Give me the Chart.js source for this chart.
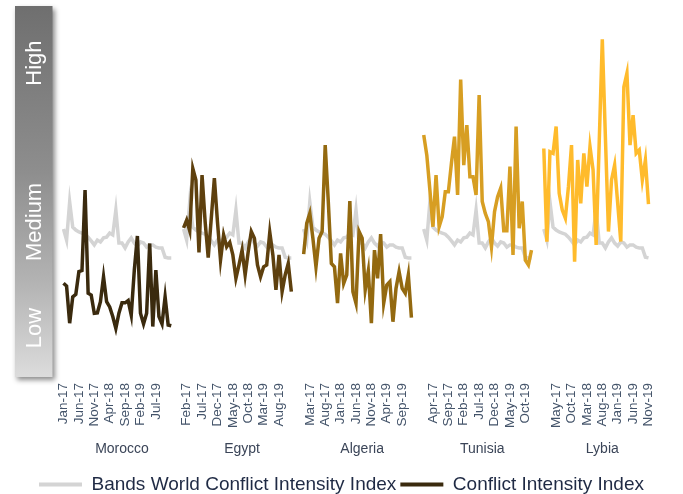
<!DOCTYPE html>
<html>
<head>
<meta charset="utf-8">
<script src="https://cdn.jsdelivr.net/npm/chart.js@4.4.1/dist/chart.umd.min.js"></script>
<style>
  html, body { margin: 0; padding: 0; background: #fff; overflow: hidden; }
  #wrap { width: 683px; height: 494px; }
</style>
</head>
<body>
<div id="wrap"><canvas id="mycanvas"></canvas></div>
<script>
// categories
var countries = ['Morocco', 'Egypt', 'Algeria', 'Tunisia', 'Lybia'];
var months = ['Jan-17','Feb-17','Mar-17','Apr-17','May-17','Jun-17','Jul-17','Aug-17','Sep-17','Oct-17','Nov-17','Dec-17',
              'Jan-18','Feb-18','Mar-18','Apr-18','May-18','Jun-18','Jul-18','Aug-18','Sep-18','Oct-18','Nov-18','Dec-18',
              'Jan-19','Feb-19','Mar-19','Apr-19','May-19','Jun-19','Jul-19','Aug-19','Sep-19','Oct-19','Nov-19','Dec-19'];
var levels = ['High', 'Medium', 'Low'];

// tick labels shown under each country
var moroccoTicks = ['Jan-17','Jun-17','Nov-17','Apr-18','Sep-18','Feb-19','Jul-19'];
var egyptTicks   = ['Feb-17','Jul-17','Dec-17','May-18','Oct-18','Mar-19','Aug-19'];
var algeriaTicks = ['Mar-17','Aug-17','Jan-18','Jun-18','Nov-18','Apr-19','Sep-19'];
var tunisiaTicks = ['Apr-17','Sep-17','Feb-18','Jul-18','Dec-18','May-19','Oct-19'];
var lybiaTicks   = ['May-17','Oct-17','Mar-18','Aug-18','Jan-19','Jun-19','Nov-19'];

// Bands World Conflict Intensity Index (same in every panel)
var world = [39.9, 36.9, 47.2, 40.4, 39.6, 39.1, 38.8, 38.5, 37.7, 36.7, 35.6, 36.9,
             36.4, 37.5, 37.7, 38.8, 38.3, 45.0, 36.1, 36.1, 34.8, 36.4, 37.5, 36.1,
             35.3, 36.4, 36.1, 35.0, 35.6, 35.6, 35.0, 34.8, 34.8, 32.3, 32.1, 32.1];

// Conflict Intensity Index per country
var morocco = [25.3, 24.5, 14.5, 21.6, 22.3, 28.4, 28.7, 50.4, 22.6, 22.1, 17.2, 17.3,
               20.3, 27.0, 20.3, 18.9, 16.3, 13.1, 17.2, 20.0, 20.0, 20.6, 16.7, 28.8,
               38.0, 17.2, 14.3, 17.2, 36.0, 13.6, 28.8, 16.3, 14.3, 21.6, 14.0, 13.8];
var egypt = [40.2, 42.3, 39.4, 56.2, 53.1, 33.6, 54.4, 41.9, 32.2, 42.8, 53.6, 41.9,
             31.5, 38.3, 35.1, 36.3, 32.9, 26.6, 30.2, 34.2, 27.5, 33.8, 39.2, 37.4,
             30.2, 27.0, 29.7, 30.2, 39.0, 32.9, 23.5, 32.9, 23.0, 27.5, 30.6, 23.0];
var algeria = [33.1, 41.4, 44.1, 37.4, 29.7, 37.4, 39.2, 62.5, 47.3, 30.6, 29.7, 19.9,
               33.3, 25.2, 27.5, 47.4, 23.0, 19.9, 39.2, 37.4, 23.5, 28.6, 14.5, 34.2,
               26.6, 38.5, 19.9, 24.8, 25.7, 14.9, 23.9, 28.4, 23.9, 22.6, 27.5, 16.0];
var tunisia = [65.2, 59.8, 50.4, 40.5, 54.4, 40.5, 43.2, 49.9, 49.9, 57.6, 64.8, 49.1,
               80.2, 57.1, 67.9, 54.0, 54.0, 49.1, 76.0, 47.3, 44.1, 41.9, 35.1, 44.6,
               48.6, 50.9, 39.4, 39.4, 56.7, 32.9, 67.5, 40.1, 47.3, 31.5, 30.2, 34.2];
var lybia = [61.6, 36.5, 60.7, 60.3, 67.5, 49.5, 45.0, 42.8, 51.3, 62.5, 31.1, 58.5,
             46.8, 60.3, 51.3, 62.1, 55.8, 35.6, 63.3, 91.0, 64.8, 39.2, 53.1, 57.1,
             46.8, 36.5, 78.2, 81.9, 62.5, 70.6, 60.3, 61.2, 53.1, 58.5, 46.6];

var countryData = [morocco, egypt, algeria, tunisia, lybia];
var countryTicks = [moroccoTicks, egyptTicks, algeriaTicks, tunisiaTicks, lybiaTicks];
var countryColors = ['#3A2A0E', '#5E400E', '#936910', '#D79E22', '#FFBB2C'];
var gap = 3;
var blockLen = months.length + gap;
var fontFam = "'Liberation Sans', Arial, sans-serif";

// build the long category axis: one block of months per country, blanks between
var labels = [], tickText = [], worldLine = [], conflictLine = [];
countries.forEach(function (c, b) {
  for (var i = 0; i < blockLen; i++) {
    var m = i < months.length ? months[i] : '';
    labels.push(m);
    tickText.push(m && countryTicks[b].indexOf(m) >= 0 ? m : '');
    var v = countryData[b][i];
    conflictLine.push(v === undefined ? null : v);
    worldLine.push(v === undefined ? null : world[i]);
  }
});

var bandPlugin = {
  id: 'band',
  beforeDraw: function (chart) {
    var ctx = chart.ctx, a = chart.chartArea;
    var x0 = 15, w = 37.5, top = a.top, h = a.bottom - a.top;
    ctx.save();
    var g = ctx.createLinearGradient(0, top, 0, top + h);
    g.addColorStop(0, '#6f6f6f');
    g.addColorStop(0.45, '#8e8e8e');
    g.addColorStop(0.75, '#b4b4b4');
    g.addColorStop(1, '#dcdcdc');
    ctx.shadowColor = 'rgba(0,0,0,0.45)';
    ctx.shadowBlur = 5;
    ctx.shadowOffsetX = 2;
    ctx.shadowOffsetY = 3;
    ctx.fillStyle = g;
    ctx.fillRect(x0, top, w, h);
    ctx.restore();

    var pos = [0.154, 0.582, 0.868];
    ctx.save();
    ctx.fillStyle = '#ffffff';
    ctx.font = '22px ' + fontFam;
    ctx.textAlign = 'center';
    ctx.textBaseline = 'middle';
    levels.forEach(function (t, i) {
      ctx.save();
      ctx.translate(x0 + w / 2 + 1, top + h * pos[i]);
      ctx.rotate(-Math.PI / 2);
      ctx.fillText(t, 0, 0);
      ctx.restore();
    });
    ctx.restore();
  },
  afterDraw: function (chart) {
    var ctx = chart.ctx, xs = chart.scales.x, a = chart.chartArea;
    ctx.save();
    ctx.fillStyle = '#3B4558';
    ctx.font = '14px ' + fontFam;
    ctx.textAlign = 'center';
    ctx.textBaseline = 'middle';
    countries.forEach(function (c, b) {
      ctx.fillText(c, xs.getPixelForValue(b * blockLen + (blockLen - 1) / 2), a.bottom + 72);
    });
    ctx.restore();
  }
};

var ctx = document.getElementById('mycanvas');
new Chart(ctx, {
  type: 'line',
  data: {
    labels: labels,
    datasets: [
      {
        label: 'Conflict Intensity Index',
        data: conflictLine,
        borderColor: countryColors[0],
        borderWidth: 3.5,
        pointRadius: 0,
        pointBorderWidth: 4,
        pointBorderColor: countryColors[0],
        spanGaps: false,
        segment: {
          borderColor: function (s) { return countryColors[Math.floor(s.p0DataIndex / blockLen)]; }
        }
      },
      {
        label: 'Bands World Conflict Intensity Index',
        data: worldLine,
        borderColor: '#D4D4D4',
        borderWidth: 3.5,
        pointRadius: 0,
        pointBorderWidth: 4,
        pointBorderColor: '#D4D4D4',
        spanGaps: false
      }
    ]
  },
  options: {
    responsive: true,
    maintainAspectRatio: false,
    animation: false,
    events: [],
    layout: { padding: { left: 0, right: 0, top: 6, bottom: -10 } },
    scales: {
      x: {
        type: 'category',
        offset: false,
        grid: { display: false, drawTicks: false },
        border: { display: false },
        ticks: {
          autoSkip: false,
          minRotation: 90,
          maxRotation: 90,
          padding: 6,
          color: '#44546A',
          font: { size: 13.5, family: fontFam },
          callback: function (value, index) { return tickText[index]; }
        },
        afterFit: function (scale) { scale.height = 94; }
      },
      y: {
        min: 0, max: 100,
        grid: { display: false, drawTicks: false },
        border: { display: false },
        ticks: { display: false },
        afterFit: function (scale) { scale.width = 63.5; }
      },
      yRight: {
        position: 'right',
        min: 0, max: 100,
        grid: { display: false, drawTicks: false },
        border: { display: false },
        ticks: { display: false },
        afterFit: function (scale) { scale.width = 6; }
      }
    },
    plugins: {
      tooltip: { enabled: false },
      legend: {
        position: 'bottom',
        labels: {
          usePointStyle: true,
          pointStyle: 'line',
          pointStyleWidth: 43,
          padding: 4,
          color: '#1F2A44',
          font: { size: 19, family: fontFam },
          sort: function (a, b) { return b.datasetIndex - a.datasetIndex; }
        }
      }
    }
  },
  plugins: [bandPlugin]
});
</script>
</body>
</html>
